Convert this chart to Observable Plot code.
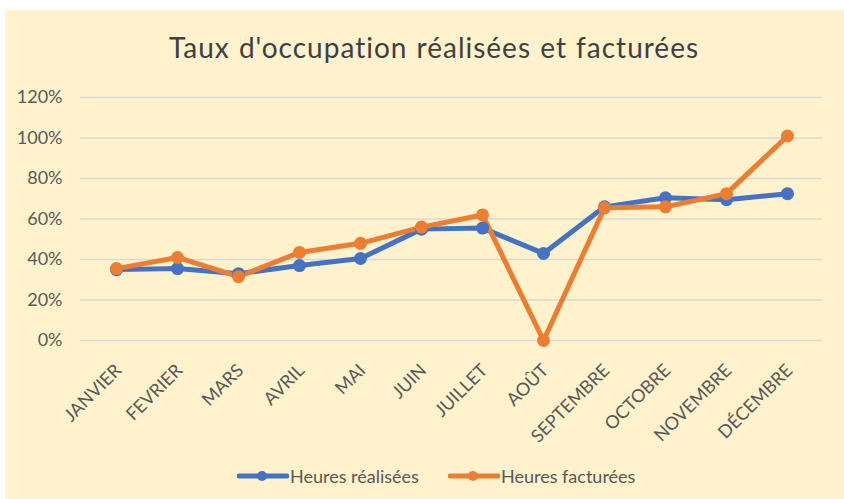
<!DOCTYPE html>
<html>
<head>
<meta charset="utf-8">
<script src="https://cdn.jsdelivr.net/npm/d3@7"></script>
<script src="https://cdn.jsdelivr.net/npm/@observablehq/plot@0.6"></script>
<style>
  html, body { margin: 0; padding: 0; background: #ffffff; }
  #frame { position: absolute; left: 5px; top: 10px; width: 839px; height: 489px; background: #FFF2CC; }
  #title { position: absolute; left: 0; top: 33px; width: 868px; text-align: center; font-family: Lato, sans-serif; font-size: 28px; line-height: 28px; letter-spacing: 1px; word-spacing: 1px; color: #404040; }
  #chart { position: absolute; left: 0; top: 0; }
  #legend { position: absolute; top: 465px; left: 0; width: 844px; font-family: Lato, sans-serif; font-size: 18px; line-height: 22px; color: #595959; }
  .item { position: absolute; display: flex; align-items: center; }
  .item svg { margin-right: 1px; }
</style>
</head>
<body>
<div id="frame"></div>
<div id="title">Taux d'occupation réalisées et facturées</div>
<div id="chart"></div>
<div id="legend"></div>
<script>
const months = ["JANVIER","FEVRIER","MARS","AVRIL","MAI","JUIN","JUILLET","AOÛT","SEPTEMBRE","OCTOBRE","NOVEMBRE","DÉCEMBRE"];
const realisees = [35, 35.5, 33, 37, 40.5, 55, 55.5, 43, 66, 70.5, 69.5, 72.5];
const facturees = [35.5, 41, 31.5, 43.5, 48, 56, 62, 0, 65.5, 66, 72.5, 101];
const yTicks = [0, 20, 40, 60, 80, 100, 120];
const seriesNames = ["Heures réalisées", "Heures facturées"];
const seriesColors = ["#4472C4", "#ED7D31"];

const data = [];
months.forEach((m, i) => {
  data.push({month: m, value: realisees[i], series: seriesNames[0]});
  data.push({month: m, value: facturees[i], series: seriesNames[1]});
});

const chart = Plot.plot({
  width: 844,
  height: 440,
  marginTop: 97,
  marginBottom: 100,
  marginLeft: 80,
  marginRight: 22,
  style: {background: "transparent", fontFamily: "Lato, sans-serif", color: "#595959", overflow: "visible"},
  x: {type: "point", domain: months, padding: 0.5, label: null},
  y: {domain: [0, 120], label: null},
  color: {domain: seriesNames, range: seriesColors},
  marks: [
    Plot.ruleY(yTicks, {stroke: "#D9D9D9", strokeWidth: 1.5}),
    Plot.axisY(yTicks, {tickSize: 0, tickPadding: 18, tickFormat: d => d + "%", fontSize: 18, fill: "#595959", label: null}),
    Plot.axisX({tickSize: 0, tickRotate: -45, tickPadding: 10, dy: 17, dx: 2, fontSize: 18, fill: "#595959", label: null}),
    Plot.line(data, {x: "month", y: "value", z: "series", stroke: "series", strokeWidth: 5, strokeLinejoin: "round"}),
    Plot.dot(data, {x: "month", y: "value", fill: "series", r: 6.5})
  ]
});
document.getElementById("chart").appendChild(chart);

const legend = document.getElementById("legend");
const lefts = [237, 448];
seriesNames.forEach((name, i) => {
  const div = document.createElement("div");
  div.className = "item";
  div.style.left = lefts[i] + "px";
  div.innerHTML = `<svg width="52" height="12"><line x1="2" y1="6" x2="50" y2="6" stroke="${seriesColors[i]}" stroke-width="5" stroke-linecap="round"/><circle cx="25" cy="6" r="5" fill="${seriesColors[i]}"/></svg><span>${name}</span>`;
  legend.appendChild(div);
});
</script>
</body>
</html>
